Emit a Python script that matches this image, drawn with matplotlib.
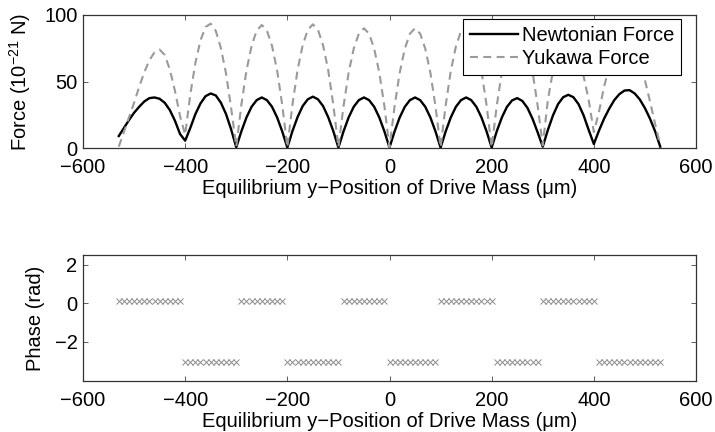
import numpy as np
import matplotlib
matplotlib.use("Agg")
import matplotlib.pyplot as plt

plt.rcParams['font.family'] = ['Liberation Sans', 'DejaVu Sans']
plt.rcParams['mathtext.fontset'] = 'custom'
plt.rcParams['mathtext.rm'] = 'Liberation Sans'
plt.rcParams['mathtext.it'] = 'Liberation Sans:italic'
plt.rcParams['mathtext.bf'] = 'Liberation Sans:bold'

# Equilibrium y-position of the drive mass (um), 10 um steps
y_pos = np.arange(-530, 531, 10)

# Force amplitudes (1e-21 N)
newtonian = [
    9, 15, 21, 26.5, 31, 35, 37.5, 38, 37, 34, 28.5, 20.5, 10.5, 5.5,
    15, 25.5, 33.5, 39, 41, 39.5, 34, 25.5, 14, 0.5,
    12.5, 23, 31, 36, 38, 36, 31, 23, 12.5, 0.3,
    12.7, 23.2, 31.5, 36.6, 38.6, 36.6, 31.5, 23.2, 12.7, 0.3,
    12.5, 23, 31, 36, 38, 36, 31, 23, 12.5, 0.3,
    12.5, 23, 31, 36, 38, 36, 31, 23, 12.5, 0.3,
    12.5, 23, 31, 36, 38, 36, 31, 23, 12.5, 0.3,
    12.6, 23, 31, 35.8, 37.5, 35.4, 30.2, 22, 11.8, 1,
    13.5, 24.5, 33, 38.2, 40, 38.2, 33, 24.5, 13.5, 3,
    13, 22, 29.5, 36, 40.5, 43.2, 43.5, 41, 36.5, 30, 22, 12.5, 1,
]
yukawa = [
    1, 12, 23, 34, 46, 57, 66, 72, 74, 70, 59, 43, 24, 10,
    40, 64, 81, 91, 93.5, 88, 75, 56, 30, 1,
    32.4, 58.3, 76.8, 88.3, 92.5, 88.3, 76.8, 58.3, 32.4, 0.5,
    32.6, 58.6, 77.2, 88.8, 93, 88.8, 77.2, 58.6, 32.6, 0.5,
    31.5, 56.7, 74.7, 86, 90, 86, 74.7, 56.7, 31.5, 0.5,
    31.5, 56.7, 74.7, 86, 90, 86, 74.7, 56.7, 31.5, 0.5,
    32.2, 58, 76.4, 87.9, 92, 87.9, 76.4, 58, 32.2, 0.5,
    31.9, 57.3, 75.5, 86.9, 91, 86.9, 75.5, 57.3, 31.9, 2,
    36, 58, 75, 86, 90, 86, 74, 54, 36, 12,
    27, 46, 61, 72, 80, 84, 84, 78, 67, 51, 35, 18, 2,
]

# Phase of the signal (rad)
phase = (
    [0.1] * 13 + [-3.04] * 11 + [0.1] * 9 + [-3.04] * 11 + [0.1] * 9
    + [-3.04] * 10 + [0.1] * 11 + [-3.04] * 9 + [0.1] * 11 + [-3.04] * 13
)

x_ticks = [-600, -400, -200, 0, 200, 400, 600]
force_ticks = [0, 50, 100]
phase_ticks = [-2, 0, 2]
xlabel = 'Equilibrium y\u2212Position of Drive Mass (\u03bcm)'
FS = 14.5

fig = plt.figure(figsize=(7.15, 4.32), dpi=100)
ax1 = fig.add_axes([83 / 715, 1 - 148 / 432, 613 / 715, 133 / 432])
ax2 = fig.add_axes([83 / 715, 1 - 381 / 432, 613 / 715, 126 / 432])

ax1.plot(y_pos, newtonian, color='black', lw=1.7, label='Newtonian Force')
ax1.plot(y_pos, yukawa, color='#9a9a9a', lw=1.5, dashes=(3.8, 2.6),
         label='Yukawa Force')
ax1.set_ylim(0, 100)
ax1.set_yticks(force_ticks)
ax1.set_ylabel('Force (10$^{\\mathregular{-21}}$ N)', fontsize=FS, labelpad=8)
leg = ax1.legend(loc='upper right', bbox_to_anchor=(0.9755, 0.968),
                 borderaxespad=0, fontsize=FS, frameon=True, fancybox=False,
                 framealpha=1, edgecolor='black', handlelength=2.4,
                 handletextpad=0.2, labelspacing=0.22, borderpad=0.32)
leg.get_frame().set_linewidth(0.8)

ax2.plot(y_pos, phase, linestyle='none', marker='x', markersize=4.2,
         markeredgewidth=0.7, color='#8c8c8c')
ax2.set_ylim(-4.04, 2.52)
ax2.set_yticks(phase_ticks)
ax2.set_ylabel('Phase (rad)', fontsize=FS, labelpad=7)

for ax in (ax1, ax2):
    ax.set_xlim(-600, 600)
    ax.set_xticks(x_ticks)
    ax.set_xlabel(xlabel, fontsize=FS, labelpad=1)
    ax.tick_params(direction='in', length=3.6, width=0.6, top=True, right=True,
                   labelsize=FS, color='#444444')
    ax.tick_params(axis='x', pad=7.5)
    ax.tick_params(axis='y', pad=4)
    for s in ax.spines.values():
        s.set_color('#333333')
        s.set_linewidth(0.9)

fig.savefig('out.png', dpi=100)
